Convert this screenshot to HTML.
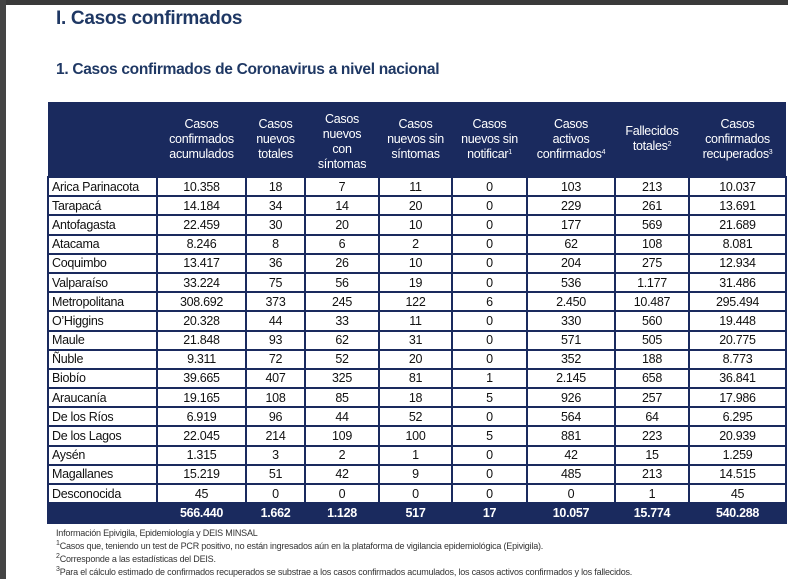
<!DOCTYPE html>
<html><head><meta charset="utf-8"><style>
body{margin:0;width:788px;height:579px;background:#fff;position:relative;overflow:hidden;font-family:"Liberation Sans",sans-serif;}
.top{position:absolute;left:0;top:0;width:788px;height:5px;background:#3a3a3a}
.left{position:absolute;left:0;top:0;width:6px;height:579px;background:#444}
h1{position:absolute;left:56px;top:8px;margin:0;font-size:19px;color:#1f3864;font-weight:bold;letter-spacing:-0.3px}
h2{position:absolute;left:56px;top:61px;margin:0;font-size:15.5px;color:#1f3864;font-weight:bold;letter-spacing:-0.3px}
table{position:absolute;left:47px;top:102px;width:738px;border-collapse:collapse;table-layout:fixed;font-size:12.5px;letter-spacing:-0.3px}
tr.h{height:75px}
th{background:#1a2a5e;color:#fff;font-weight:normal;padding:0;line-height:15px;vertical-align:middle;font-size:12.5px;overflow:hidden}
tr.r{height:19.2px}
td{border:2px solid #1a2a5e;padding:0;text-align:center;color:#111;line-height:14px;overflow:hidden}
td.n{text-align:left;padding-left:3px}
tr.tot{height:20px}
tr.tot td{background:#1a2a5e;color:#fff;font-weight:bold;border-color:#1a2a5e}
sup{font-size:7px;line-height:0;vertical-align:4px}
.fn{position:absolute;left:56px;font-size:9px;line-height:11px;color:#333;letter-spacing:-0.2px}
</style></head><body>
<div class="top"></div><div class="left"></div>
<h1>I. Casos confirmados</h1>
<h2>1. Casos confirmados de Coronavirus a nivel nacional</h2>
<table>
<colgroup><col style="width:109px"><col style="width:89px"><col style="width:59px"><col style="width:74px"><col style="width:73px"><col style="width:75px"><col style="width:88px"><col style="width:74px"><col style="width:97px"></colgroup>
<tr class="h"><th></th><th>Casos<br>confirmados<br>acumulados</th><th>Casos<br>nuevos<br>totales</th><th><div style="margin-top:6px">Casos<br>nuevos<br>con<br>síntomas</div></th><th>Casos<br>nuevos sin<br>síntomas</th><th>Casos<br>nuevos sin<br>notificar<sup>1</sup></th><th>Casos<br>activos<br>confirmados<sup>4</sup></th><th>Fallecidos<br>totales<sup>2</sup></th><th>Casos<br>confirmados<br>recuperados<sup>3</sup></th></tr>
<tr class="r"><td class="n">Arica Parinacota</td><td>10.358</td><td>18</td><td>7</td><td>11</td><td>0</td><td>103</td><td>213</td><td>10.037</td></tr>
<tr class="r"><td class="n">Tarapacá</td><td>14.184</td><td>34</td><td>14</td><td>20</td><td>0</td><td>229</td><td>261</td><td>13.691</td></tr>
<tr class="r"><td class="n">Antofagasta</td><td>22.459</td><td>30</td><td>20</td><td>10</td><td>0</td><td>177</td><td>569</td><td>21.689</td></tr>
<tr class="r"><td class="n">Atacama</td><td>8.246</td><td>8</td><td>6</td><td>2</td><td>0</td><td>62</td><td>108</td><td>8.081</td></tr>
<tr class="r"><td class="n">Coquimbo</td><td>13.417</td><td>36</td><td>26</td><td>10</td><td>0</td><td>204</td><td>275</td><td>12.934</td></tr>
<tr class="r"><td class="n">Valparaíso</td><td>33.224</td><td>75</td><td>56</td><td>19</td><td>0</td><td>536</td><td>1.177</td><td>31.486</td></tr>
<tr class="r"><td class="n">Metropolitana</td><td>308.692</td><td>373</td><td>245</td><td>122</td><td>6</td><td>2.450</td><td>10.487</td><td>295.494</td></tr>
<tr class="r"><td class="n">O’Higgins</td><td>20.328</td><td>44</td><td>33</td><td>11</td><td>0</td><td>330</td><td>560</td><td>19.448</td></tr>
<tr class="r"><td class="n">Maule</td><td>21.848</td><td>93</td><td>62</td><td>31</td><td>0</td><td>571</td><td>505</td><td>20.775</td></tr>
<tr class="r"><td class="n">Ñuble</td><td>9.311</td><td>72</td><td>52</td><td>20</td><td>0</td><td>352</td><td>188</td><td>8.773</td></tr>
<tr class="r"><td class="n">Biobío</td><td>39.665</td><td>407</td><td>325</td><td>81</td><td>1</td><td>2.145</td><td>658</td><td>36.841</td></tr>
<tr class="r"><td class="n">Araucanía</td><td>19.165</td><td>108</td><td>85</td><td>18</td><td>5</td><td>926</td><td>257</td><td>17.986</td></tr>
<tr class="r"><td class="n">De los Ríos</td><td>6.919</td><td>96</td><td>44</td><td>52</td><td>0</td><td>564</td><td>64</td><td>6.295</td></tr>
<tr class="r"><td class="n">De los Lagos</td><td>22.045</td><td>214</td><td>109</td><td>100</td><td>5</td><td>881</td><td>223</td><td>20.939</td></tr>
<tr class="r"><td class="n">Aysén</td><td>1.315</td><td>3</td><td>2</td><td>1</td><td>0</td><td>42</td><td>15</td><td>1.259</td></tr>
<tr class="r"><td class="n">Magallanes</td><td>15.219</td><td>51</td><td>42</td><td>9</td><td>0</td><td>485</td><td>213</td><td>14.515</td></tr>
<tr class="r"><td class="n">Desconocida</td><td>45</td><td>0</td><td>0</td><td>0</td><td>0</td><td>0</td><td>1</td><td>45</td></tr>
<tr class="tot"><td></td><td>566.440</td><td>1.662</td><td>1.128</td><td>517</td><td>17</td><td>10.057</td><td>15.774</td><td>540.288</td></tr>
</table>
<div class="fn" style="top:528px">Información Epivigila, Epidemiología y DEIS MINSAL</div>
<div class="fn" style="top:541px"><sup>1</sup>Casos que, teniendo un test de PCR positivo, no están ingresados aún en la plataforma de vigilancia epidemiológica (Epivigila).</div>
<div class="fn" style="top:554px"><sup>2</sup>Corresponde a las estadísticas del DEIS.</div>
<div class="fn" style="top:567px"><sup>3</sup>Para el cálculo estimado de confirmados recuperados se substrae a los casos confirmados acumulados, los casos activos confirmados y los fallecidos.</div>
</body></html>
